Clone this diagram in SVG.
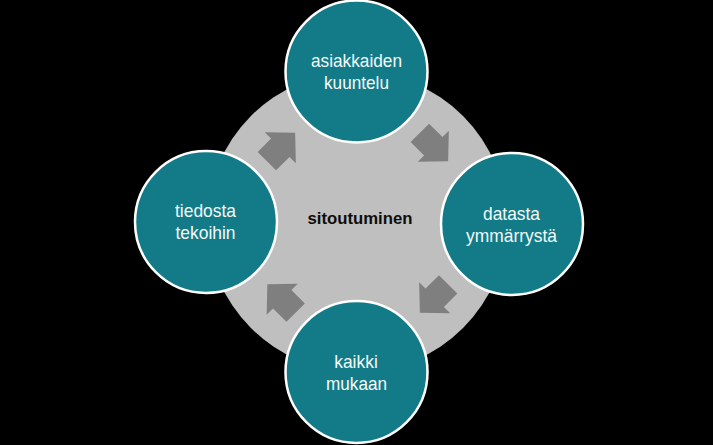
<svg xmlns="http://www.w3.org/2000/svg" width="713" height="445" viewBox="0 0 713 445">
<defs>
<style>
.node circle{fill:#127b87;stroke:#ffffff;stroke-width:2.5}
.node text{fill:#f4fafa;font-family:"Liberation Sans",Arial,sans-serif;font-size:18.5px;text-anchor:middle}
.arrow{fill:#7f7f7f}
.center{fill:#0d0d0d;font-family:"Liberation Sans",Arial,sans-serif;font-weight:bold;font-size:16.5px;text-anchor:middle}
</style>
<path id="arr" d="M-20,-13 L-1,-13 L-1,-22 L20,0 L-1,22 L-1,13 L-20,13 Z"/>
</defs>
<rect width="713" height="445" fill="#000000"/>
<g id="hub">
<circle cx="357" cy="222" r="150" fill="#bfbfbf"/>
<text class="center" x="360" y="224" textLength="105" lengthAdjust="spacingAndGlyphs">sitoutuminen</text>
</g>
<g id="connectors">
<use href="#arr" class="arrow" transform="translate(281,147) rotate(-45)"/>
<use href="#arr" class="arrow" transform="translate(434,147) rotate(45)"/>
<use href="#arr" class="arrow" transform="translate(434,298.5) rotate(135)"/>
<use href="#arr" class="arrow" transform="translate(281.5,298.5) rotate(-135)"/>
</g>
<g id="node-top" class="node">
<circle cx="356.5" cy="71.5" r="71"/>
<text x="356.5" y="67" textLength="91" lengthAdjust="spacingAndGlyphs">asiakkaiden</text>
<text x="356.5" y="89" textLength="65" lengthAdjust="spacingAndGlyphs">kuuntelu</text>
</g>
<g id="node-right" class="node">
<circle cx="512" cy="224" r="71"/>
<text x="511.5" y="220" textLength="57" lengthAdjust="spacingAndGlyphs">datasta</text>
<text x="511.5" y="242" textLength="91" lengthAdjust="spacingAndGlyphs">ymmärrystä</text>
</g>
<g id="node-bottom" class="node">
<circle cx="356.5" cy="372" r="71"/>
<text x="356" y="368" textLength="43.5" lengthAdjust="spacingAndGlyphs">kaikki</text>
<text x="356.5" y="390" textLength="61" lengthAdjust="spacingAndGlyphs">mukaan</text>
</g>
<g id="node-left" class="node">
<circle cx="206" cy="222" r="71"/>
<text x="205.5" y="217" textLength="61" lengthAdjust="spacingAndGlyphs">tiedosta</text>
<text x="205.5" y="239" textLength="60" lengthAdjust="spacingAndGlyphs">tekoihin</text>
</g>
</svg>
